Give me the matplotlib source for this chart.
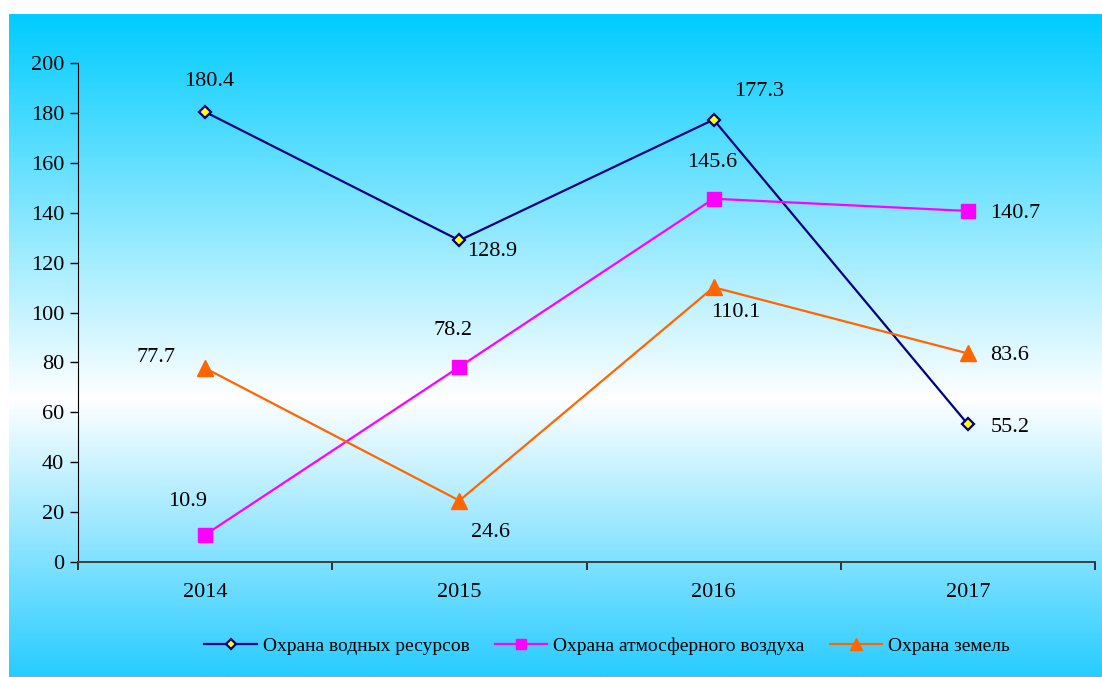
import numpy as np
import matplotlib.pyplot as plt
from matplotlib.colors import LinearSegmentedColormap

years = ['2014', '2015', '2016', '2017']
water = [180.4, 128.9, 177.3, 55.2]
air = [10.9, 78.2, 145.6, 140.7]
land = [77.7, 24.6, 110.1, 83.6]
names = ['Охрана водных ресурсов', 'Охрана атмосферного воздуха', 'Охрана земель']

plt.rcParams['font.family'] = ['Liberation Serif', 'DejaVu Serif']

W, H = 1102, 677
fig = plt.figure(figsize=(W / 100, H / 100), dpi=100)

# gradient background (cyan -> white -> cyan)
bg = fig.add_axes([9 / W, 0, 1 - 9 / W, 1 - 14 / H])
cmap = LinearSegmentedColormap.from_list('bg', [(0.0, '#00ccff'), (0.58, '#ffffff'), (1.0, '#28ccff')])
grad = np.linspace(0, 1, 256).reshape(-1, 1)
bg.imshow(grad, aspect='auto', cmap=cmap, extent=[0, 1, 1, 0])
bg.set_axis_off()

ax = fig.add_axes([78 / W, 1 - 562 / H, (1095 - 78) / W, (562 - 63) / H])
ax.set_facecolor('none')
x = np.arange(len(years))

l1, = ax.plot(x, water, color='#000080', lw=1.6, marker='D', ms=6.5,
              mfc='#ffff00', mec='#000080', mew=1.6, zorder=3)
l2, = ax.plot(x, air, color='#ff00ff', lw=1.6, marker='s', ms=9.5,
              mfc='#ff00ff', mec='#ff00ff', zorder=3)
l3, = ax.plot(x, land, color='#ff6600', lw=1.6, marker='^', ms=11,
              mfc='#ff6600', mec='#ff6600', zorder=3)

# data labels, offsets in pixels
off_water = [(4, 30), (33, -11), (45, 28), (42, -3)]
off_air = [(-18, 33), (-6, 36), (-1, 36), (47, -3)]
off_land = [(-49, 11), (31, -32), (22, -25), (42, -2)]
for vals, offs in [(water, off_water), (air, off_air), (land, off_land)]:
    for i, v in enumerate(vals):
        ax.annotate(f'{v:.1f}', (x[i], v), xytext=offs[i], textcoords='offset pixels',
                    ha='center', va='center', fontsize=16, color='black')

ax.set_xlim(-0.5, 3.5)
ax.set_ylim(0, 200)
ax.set_yticks(range(0, 201, 20))
ax.set_xticks(x)
ax.set_xticklabels(years)
ax.set_xticks(np.arange(-0.5, 3.6, 1), minor=True)
ax.tick_params(axis='y', labelsize=16, length=6, width=1, pad=4)
ax.tick_params(axis='x', which='major', length=0, labelsize=16, pad=15)
ax.tick_params(axis='x', which='minor', length=6, width=1.4, color='#303030')
for s in ['top', 'right']:
    ax.spines[s].set_visible(False)
ax.spines['left'].set_color('black')
ax.spines['bottom'].set_color('#404040')
ax.spines['bottom'].set_linewidth(1.4)

fig.legend([l1, l2, l3], names, loc='center', bbox_to_anchor=(0.551, 1 - 646 / H),
           ncol=3, frameon=False, fontsize=14, handlelength=2.7, columnspacing=1.3,
           handletextpad=0.3, markerscale=0.8)

fig.savefig('out.png', dpi=100)
